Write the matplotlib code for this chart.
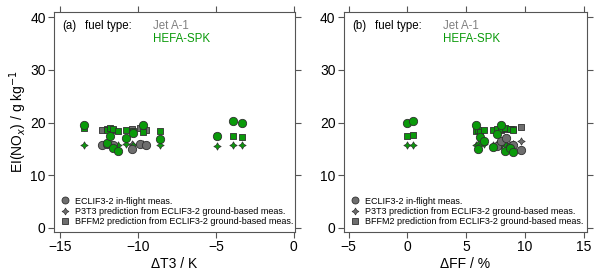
import matplotlib
matplotlib.use('Agg')
import matplotlib.pyplot as plt
from matplotlib.lines import Line2D

plt.rcParams['font.family'] = ['Liberation Sans', 'DejaVu Sans']

# panel (a): dT3 / K
jet_dT3 = [-12.3, -12.0, -11.6, -10.4, -9.9, -9.5]
jet_dT3_meas = [15.8, 15.9, 15.7, 15.0, 15.9, 15.7]
jet_dT3_p3t3 = [15.8, 15.9, 15.8, 15.9, 15.9, 15.8]
jet_dT3_bffm2 = [18.6, 18.7, 18.5, 18.7, 18.9, 18.5]

hefa_dT3 = [-13.5, -12.0, -11.8, -11.6, -11.3, -10.8, -10.3, -9.7, -8.6, -4.9, -3.9, -3.3]
hefa_dT3_meas = [19.5, 16.1, 17.5, 15.1, 14.5, 17.1, 18.0, 19.6, 16.8, 17.4, 20.2, 19.9]
hefa_dT3_p3t3 = [15.7, 15.9, 15.9, 15.8, 15.8, 15.9, 15.8, 15.9, 15.8, 15.6, 15.8, 15.8]
hefa_dT3_bffm2 = [18.9, 18.6, 18.9, 18.7, 18.3, 18.6, 18.4, 18.2, 18.4, 17.4, 17.4, 17.3]

# panel (b): dFF / %
jet_dFF = [7.6, 8.0, 8.4, 8.8, 9.0, 9.7]
jet_dFF_meas = [15.6, 16.5, 17.0, 15.5, 15.7, 14.8]
jet_dFF_p3t3 = [15.9, 15.8, 15.9, 15.8, 15.9, 16.4]
jet_dFF_bffm2 = [18.6, 18.5, 18.7, 18.7, 18.8, 19.1]

hefa_dFF = [0.0, 0.5, 5.8, 6.0, 6.2, 6.5, 7.3, 7.6, 8.0, 8.3, 8.7, 9.0]
hefa_dFF_meas = [19.9, 20.2, 19.6, 15.0, 17.3, 16.5, 15.3, 17.8, 19.6, 14.6, 15.1, 14.4]
hefa_dFF_p3t3 = [15.8, 15.8, 15.8, 15.9, 15.7, 15.9, 15.8, 15.9, 15.8, 15.9, 15.8, 15.9]
hefa_dFF_bffm2 = [17.4, 17.6, 18.3, 18.6, 18.2, 18.5, 18.5, 18.8, 18.7, 18.9, 18.8, 18.6]

grey = '#6e6e6e'
green = '#0a9a0a'
edge = '#303030'
star = (4, 1, 0)

fig = plt.figure(figsize=(6, 2.76), dpi=100)
ax1 = fig.add_axes([0.09, 0.159, 0.402, 0.798])
ax2 = fig.add_axes([0.573, 0.159, 0.405, 0.798])


def draw(ax, xj, mj, pj, bj, xh, mh, ph, bh):
    for x, m, p, b, c in [(xj, mj, pj, bj, grey), (xh, mh, ph, bh, green)]:
        ax.scatter(x, b, marker='s', s=16, c=c, edgecolors=edge, linewidths=0.6, zorder=3)
        ax.scatter(x, p, marker=star, s=28, c=c, edgecolors=edge, linewidths=0.5, zorder=3)
        ax.scatter(x, m, marker='o', s=36, c=c, edgecolors=edge, linewidths=0.6, zorder=4)


draw(ax1, jet_dT3, jet_dT3_meas, jet_dT3_p3t3, jet_dT3_bffm2,
     hefa_dT3, hefa_dT3_meas, hefa_dT3_p3t3, hefa_dT3_bffm2)
draw(ax2, jet_dFF, jet_dFF_meas, jet_dFF_p3t3, jet_dFF_bffm2,
     hefa_dFF, hefa_dFF_meas, hefa_dFF_p3t3, hefa_dFF_bffm2)

ax1.set_xlim(-15.4, 0.1)
ax1.set_xticks([-15, -10, -5, 0])
ax1.set_xlabel('ΔT3 / K', fontsize=10, labelpad=2)
ax1.set_ylabel('EI(NO$_x$) / g kg$^{-1}$', fontsize=10, labelpad=1)
ax2.set_xlim(-5.4, 15.25)
ax2.set_xticks([-5, 0, 5, 10, 15])
ax2.set_xlabel('ΔFF / %', fontsize=10, labelpad=2)

handles = [
    Line2D([], [], ls='none', marker='o', ms=5, mfc=grey, mec=edge, mew=0.6),
    Line2D([], [], ls='none', marker=star, ms=5, mfc=grey, mec=edge, mew=0.5),
    Line2D([], [], ls='none', marker='s', ms=4.5, mfc=grey, mec=edge, mew=0.6),
]
labels = ['ECLIF3-2 in-flight meas.',
          'P3T3 prediction from ECLIF3-2 ground-based meas.',
          'BFFM2 prediction from ECLIF3-2 ground-based meas.']

for ax, tag in [(ax1, '(a)'), (ax2, '(b)')]:
    ax.set_ylim(-0.8, 41)
    ax.set_yticks([0, 10, 20, 30, 40])
    ax.tick_params(direction='out', length=4, width=0.8, labelsize=10,
                   top=True, right=True, color='#555555', pad=2)
    for s in ax.spines.values():
        s.set_color('#555555')
        s.set_linewidth(0.8)
    ax.text(0.035, 0.92, tag, transform=ax.transAxes, fontsize=8.3)
    ax.text(0.13, 0.92, 'fuel type:', transform=ax.transAxes, fontsize=8.3)
    ax.text(0.41, 0.92, 'Jet A-1', transform=ax.transAxes, fontsize=8.3, color='#808080')
    ax.text(0.41, 0.865, 'HEFA-SPK', transform=ax.transAxes, fontsize=8.3, color=green)
    ax.legend(handles, labels, loc='lower left', frameon=False, fontsize=6.5,
              handlelength=1.0, handletextpad=0.6, labelspacing=0.12,
              borderaxespad=0.3, bbox_to_anchor=(0.0, 0.0))

fig.savefig('out.png', dpi=100)
